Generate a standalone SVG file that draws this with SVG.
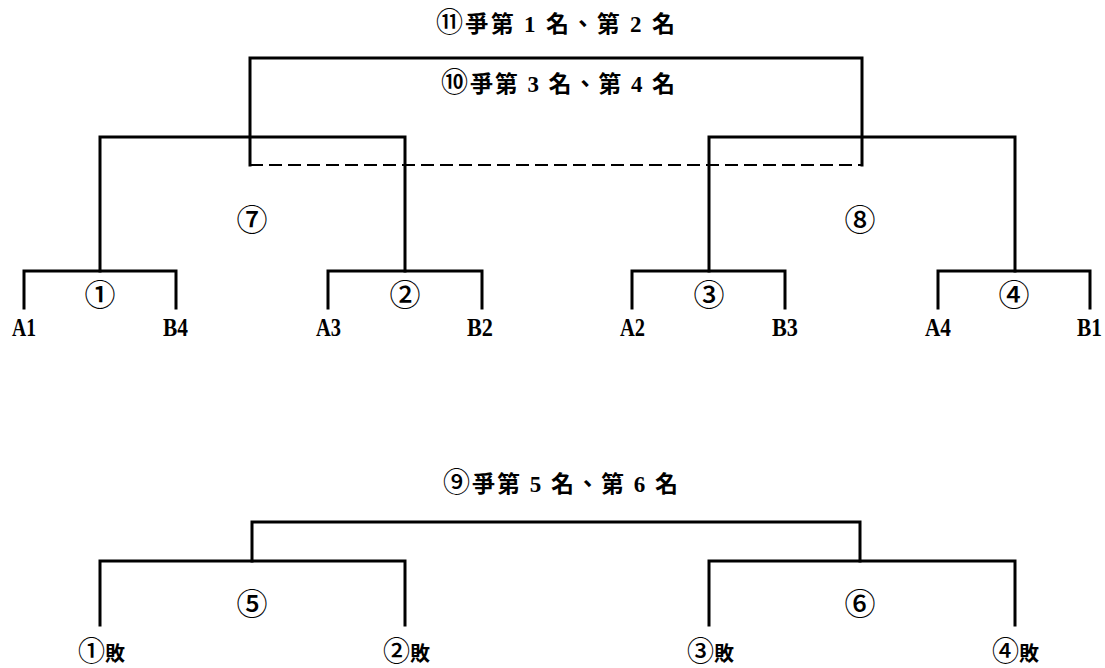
<svg xmlns="http://www.w3.org/2000/svg" width="1105" height="668" viewBox="0 0 1105 668">
<style>
.ln{fill:none;stroke:#000;stroke-width:3;stroke-linecap:square}
.dash{fill:none;stroke:#000;stroke-width:2;stroke-dasharray:13 6}
.t{font-family:"Liberation Serif","Noto Sans CJK TC",serif;font-weight:bold;font-size:23px;fill:#000}
.lab{font-family:"Liberation Serif","Noto Sans CJK TC",serif;font-weight:bold;font-size:25px;fill:#000}
.c{font-family:"Noto Sans CJK TC",sans-serif;font-size:31px;font-weight:500;fill:#000;text-anchor:middle}
.ct{font-family:"Noto Sans CJK TC",sans-serif;font-size:27px;font-weight:500}
.b{font-family:"Noto Sans CJK TC",sans-serif;font-weight:bold;font-size:20px;fill:#000}
</style>
<rect width="1105" height="668" fill="#fff"/>
<g id="connectors">
<path class="ln" d="M250,165 V58 H862 V165"/>
<path class="dash" d="M250,165 H862"/>
<path class="ln" d="M100,271 V137 H405 V271"/>
<path class="ln" d="M709,271 V137 H1015 V271"/>
<path class="ln" d="M24,308 V271 H176 V308"/>
<path class="ln" d="M328,308 V271 H482 V308"/>
<path class="ln" d="M632,308 V271 H785 V308"/>
<path class="ln" d="M938,308 V271 H1090 V308"/>
<path class="ln" d="M252,561 V522 H860 V561"/>
<path class="ln" d="M100,625 V561 H405 V625"/>
<path class="ln" d="M709,625 V561 H1015 V625"/>
</g>
<g id="title-final"><text class="t" x="436" y="32" textLength="239" lengthAdjust="spacing"><tspan class="ct">⑪</tspan>爭第 1 名、第 2 名</text></g>
<g id="title-third"><text class="t" x="441" y="92" textLength="234" lengthAdjust="spacing"><tspan class="ct">⑩</tspan>爭第 3 名、第 4 名</text></g>
<g id="title-fifth"><text class="t" x="443" y="492" textLength="235" lengthAdjust="spacing"><tspan class="ct">⑨</tspan>爭第 5 名、第 6 名</text></g>
<g id="m7"><text class="c" x="252" y="231">⑦</text></g>
<g id="m8"><text class="c" x="860" y="231">⑧</text></g>
<g id="m1"><text class="c" x="100" y="306">①</text></g>
<g id="m2"><text class="c" x="405" y="306">②</text></g>
<g id="m3"><text class="c" x="709" y="306">③</text></g>
<g id="m4"><text class="c" x="1014" y="306">④</text></g>
<g id="m5"><text class="c" x="252" y="615">⑤</text></g>
<g id="m6"><text class="c" x="860" y="615">⑥</text></g>
<g id="A1"><text class="lab" x="12" y="336" textLength="24" lengthAdjust="spacingAndGlyphs">A1</text></g>
<g id="B4"><text class="lab" x="163" y="336" textLength="25" lengthAdjust="spacingAndGlyphs">B4</text></g>
<g id="A3"><text class="lab" x="316" y="336" textLength="25" lengthAdjust="spacingAndGlyphs">A3</text></g>
<g id="B2"><text class="lab" x="467" y="336" textLength="26" lengthAdjust="spacingAndGlyphs">B2</text></g>
<g id="A2"><text class="lab" x="620" y="336" textLength="25" lengthAdjust="spacingAndGlyphs">A2</text></g>
<g id="B3"><text class="lab" x="772" y="336" textLength="26" lengthAdjust="spacingAndGlyphs">B3</text></g>
<g id="A4"><text class="lab" x="925" y="336" textLength="26" lengthAdjust="spacingAndGlyphs">A4</text></g>
<g id="B1"><text class="lab" x="1077" y="336" textLength="25" lengthAdjust="spacingAndGlyphs">B1</text></g>
<g id="L1"><text class="b" x="78" y="661"><tspan class="ct">①</tspan>敗</text></g>
<g id="L2"><text class="b" x="383" y="661"><tspan class="ct">②</tspan>敗</text></g>
<g id="L3"><text class="b" x="687" y="661"><tspan class="ct">③</tspan>敗</text></g>
<g id="L4"><text class="b" x="992" y="661"><tspan class="ct">④</tspan>敗</text></g>
</svg>
